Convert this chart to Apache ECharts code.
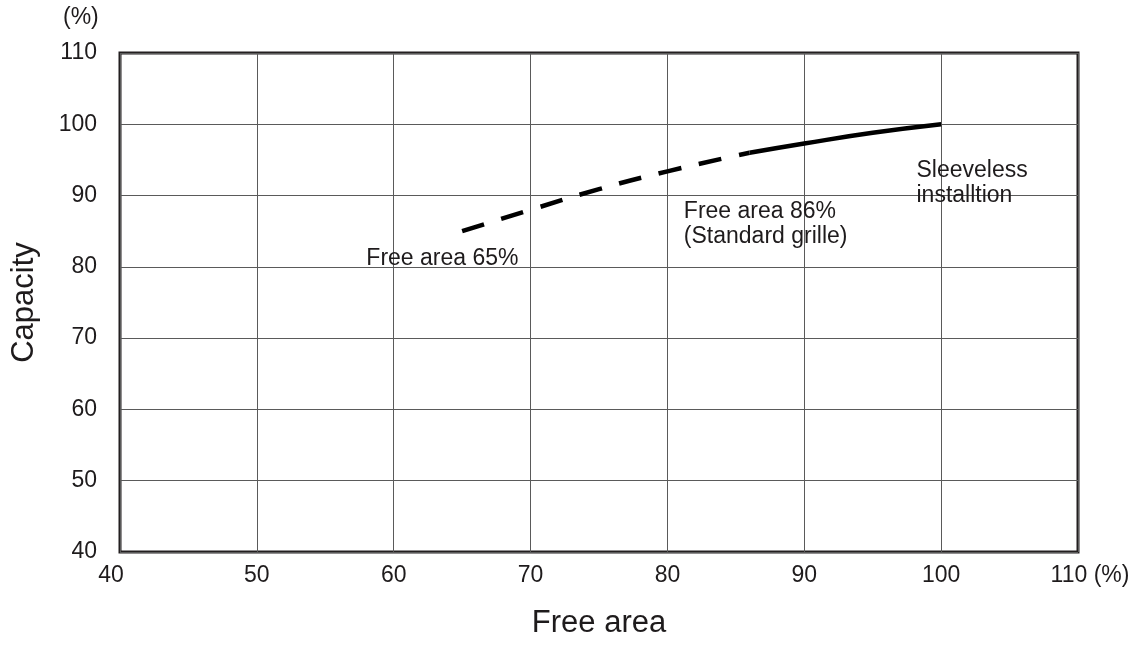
<!DOCTYPE html>
<html>
<head>
<meta charset="utf-8">
<script src="https://cdn.jsdelivr.net/npm/echarts@6/dist/echarts.min.js"></script>
<style>
  html, body { margin: 0; padding: 0; background: #fff; }
  #chart { width: 1139px; height: 648px; }
</style>
</head>
<body>
<div id="chart"></div>
<script>
// capacity vs free area
var dashedPoints = [[65, 85], [70, 88], [75, 90.9], [80, 93.4], [86, 96]];
var solidPoints = [[86, 96], [90, 97.3], [95, 98.8], [100, 100]];
// note labels: [x, y, text]
var notes = [
  [58.0, 81.1, "Free area 65%"],
  [81.2, 86.0, "Free area 86%\n(Standard grille)"],
  [98.2, 91.7, "Sleeveless\ninstalltion"]
];

var textColor = "#1e1b1c";
var fontFamily = "'Liberation Sans', Arial, sans-serif";

var chart = echarts.init(document.getElementById("chart"));
chart.setOption({
  animation: false,
  textStyle: { fontFamily: fontFamily },
  grid: {
    left: 120,
    right: 61,
    top: 53,
    bottom: 96,
    show: true,
    borderColor: "#231f20",
    borderWidth: 3
  },
  xAxis: {
    type: "value",
    min: 40,
    max: 110,
    interval: 10,
    name: "Free area",
    nameLocation: "middle",
    nameGap: 56,
    nameTextStyle: { fontSize: 31, color: textColor, fontFamily: fontFamily },
    axisLine: { show: false },
    axisTick: { show: false },
    axisLabel: {
      fontSize: 23,
      color: textColor,
      margin: 12,
      fontFamily: fontFamily,
      formatter: function (v) {
        if (v === 40) return "{l|40}";
        if (v === 110) return "{r|110 (%)}";
        return v;
      },
      rich: {
        l: { fontSize: 23, color: textColor, fontFamily: fontFamily, padding: [0, 18, 0, 0] },
        r: { fontSize: 23, color: textColor, fontFamily: fontFamily, padding: [0, 0, 0, 24] }
      }
    },
    splitLine: { show: true, lineStyle: { color: "#5a5a5a", width: 1 } }
  },
  yAxis: {
    type: "value",
    min: 40,
    max: 110,
    interval: 10,
    name: "Capacity",
    nameLocation: "middle",
    nameGap: 80,
    nameRotate: 90,
    nameTextStyle: { fontSize: 31, color: textColor, fontFamily: fontFamily },
    axisLine: { show: false },
    axisTick: { show: false },
    axisLabel: { fontSize: 23, color: textColor, margin: 23, fontFamily: fontFamily },
    splitLine: { show: true, lineStyle: { color: "#5a5a5a", width: 1 } }
  },
  graphic: [
    { type: "text", left: 63, top: 6, style: { text: "(%)", fontSize: 23, fill: textColor, fontFamily: fontFamily } }
  ],
  series: [
    {
      type: "line",
      data: dashedPoints,
      smooth: true,
      symbol: "none",
      lineStyle: { color: "#000", width: 4.5, type: [23, 18] }
    },
    {
      type: "line",
      data: solidPoints,
      smooth: true,
      symbol: "none",
      lineStyle: { color: "#000", width: 4.5 }
    },
    {
      type: "scatter",
      data: notes,
      symbolSize: 0,
      silent: true,
      itemStyle: { opacity: 1 },
      label: {
        show: true,
        position: "right",
        distance: 0,
        align: "left",
        verticalAlign: "middle",
        fontSize: 23,
        lineHeight: 25,
        opacity: 1,
        color: textColor,
        fontFamily: fontFamily,
        formatter: function (p) { return p.data[2]; }
      }
    }
  ]
});
</script>
</body>
</html>
